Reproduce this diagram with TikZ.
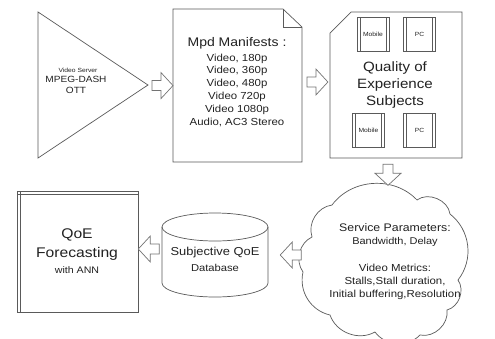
\documentclass[tikz,border=0pt]{standalone}
\usepackage{fontspec}
\setmainfont{Liberation Sans}[FakeStretch=1.12]
\usetikzlibrary{calc}
\definecolor{lg}{HTML}{5A5A5A}
\definecolor{tg}{HTML}{222222}
\newcommand{\fs}[2]{\fontsize{#1}{#2}\selectfont}
\tikzset{
  shp/.style={draw=lg, line width=0.7pt, line join=miter},
  barrow/.style={draw=lg!85, line width=0.7pt, fill=white},
  lbl/.style={text=tg, align=center, inner sep=0pt},
  proc/.style={draw=lg, line width=0.6pt, minimum width=32pt, minimum height=34pt,
    inner sep=0pt, font=\fs{6}{7}, text=tg,
    path picture={\draw[lg, line width=0.6pt]
      ([xshift=3pt]path picture bounding box.north west) -- ([xshift=3pt]path picture bounding box.south west)
      ([xshift=-3pt]path picture bounding box.north east) -- ([xshift=-3pt]path picture bounding box.south east);}},
}
\newcommand{\blockarrow}[2]{\draw[barrow, shift={(#1)}, rotate=#2]
  (-10.5,5) -- (-1.5,5) -- (-1.5,13) -- (10.5,0) -- (-1.5,-13) -- (-1.5,-5) -- (-10.5,-5) -- cycle;}
\begin{document}
\begin{tikzpicture}[x=1pt,y=-1pt]
\useasboundingbox[fill=white] (0,0) rectangle (495,338);
% video server triangle
\draw[shp] (38,12) -- (148,85) -- (38,158) -- cycle;
\node[lbl, font=\fs{6}{7}] (vs) at (78,70) {Video Server};
\node[lbl, font=\fs{9}{11}] (mpeg) at (76,85) {MPEG-DASH\\OTT};
\coordinate (triapex) at (148,85);
% manifest document
\draw[shp] (173,9) -- (283,9) -- (302,27) -- (302,162) -- (173,162) -- cycle;
\draw[shp] (283,9) -- (283,27) -- (302,27);
\coordinate (docwest) at (173,86);
\coordinate (doceast) at (302,82);
\node[lbl, font=\fs{12.5}{14}] (mpd) at (237,43) {Mpd Manifests :};
\node[lbl, font=\fs{10.2}{12.8}] (res) at (237,90) {Video, 180p\\Video, 360p\\Video, 480p\\Video 720p\\Video 1080p\\Audio, AC3 Stereo};
% QoE subjects card
\draw[shp] (330,33) -- (351,12) -- (462,12) -- (462,158) -- (330,158) -- cycle;
\coordinate (cardwest) at (330,82);
\coordinate (cardsouth) at (388,158);
\node[proc] (m1) at (373,34.5) {Mobile};
\node[proc] (p1) at (419.5,34.5) {PC};
\node[proc] (m2) at (368.5,130.5) {Mobile};
\node[proc] (p2) at (419.5,130.5) {PC};
\node[lbl, font=\fs{13.5}{17}] (qes) at (395,85) {Quality of\\Experience\\Subjects};
% cloud
\draw[shp] (332,205) to[bend left=50] (417,200) to[bend left=60] (450,214)
  to[bend left=45] (458,280) to[bend left=55] (447,310) to[bend left=55] (420,335)
  to[bend left=50] (375,332) to[bend left=50] (330,315) to[bend left=45] (303,272)
  to[bend left=50] (312,237) to[bend left=50] (332,205) -- cycle;
\coordinate (cloudnorth) at (388,186);
\coordinate (cloudwest) at (303,255);
\node[lbl, font=\fs{11}{12}] (sp) at (395,228) {Service Parameters:};
\node[lbl, font=\fs{9.8}{11}] (bd) at (395,242) {Bandwidth, Delay};
\node[lbl, font=\fs{10.2}{13.2}] (vm) at (395,282) {Video Metrics:\\Stalls,Stall duration,\\Initial buffering,Resolution};
% database cylinder
\draw[shp] (162,227) -- (162,283) arc[start angle=180, end angle=360, x radius=53pt, y radius=14pt] -- (268,227);
\draw[shp] (215,227) ellipse[x radius=53pt, y radius=14pt];
\coordinate (dbwest) at (162,249);
\coordinate (dbeast) at (268,255);
\node[lbl, font=\fs{11.5}{13}] (sq) at (215,253) {Subjective QoE};
\node[lbl, font=\fs{10}{11}] (dbt) at (215,268) {Database};
% forecasting box
\draw[shp] (17,191) rectangle (138,312);
\draw[shp] (17,194) -- (138,194) (20,191) -- (20,312);
\coordinate (fceast) at (138,249);
\node[lbl, font=\fs{14}{19}] (qoe) at (77,245) {QoE\\Forecasting};
\node[lbl, font=\fs{9.5}{10}] (ann) at (77,270) {with ANN};
% block arrows
\path (triapex) -- (docwest) coordinate[pos=0.58] (a1);
\blockarrow{a1}{0}
\path (doceast) -- (cardwest) coordinate[pos=0.55] (a2);
\blockarrow{a2}{0}
\path (cardsouth) -- (cloudnorth) coordinate[pos=0.6] (a3);
\blockarrow{a3}{-90}
\path (cloudwest) -- (dbeast) coordinate[pos=0.35] (a4);
\blockarrow{a4}{180}
\path (dbwest) -- (fceast) coordinate[pos=0.55] (a5);
\blockarrow{a5}{180}
\end{tikzpicture}
\end{document}
